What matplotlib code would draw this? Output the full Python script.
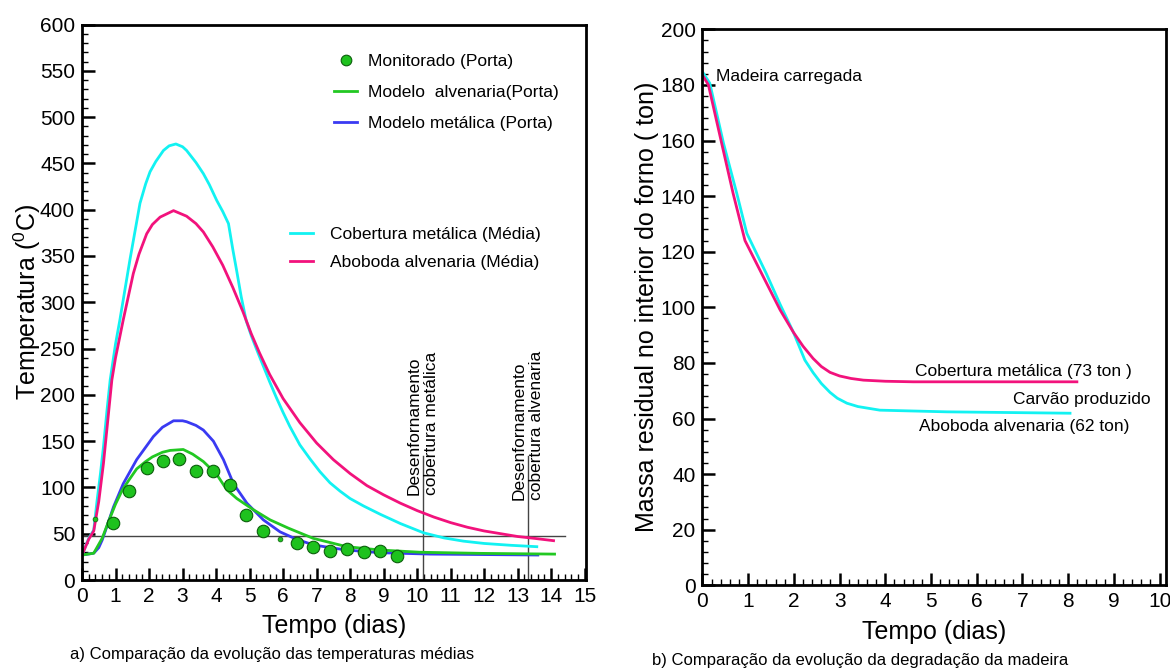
import matplotlib
matplotlib.use("Agg")
import matplotlib.pyplot as plt
from matplotlib.ticker import MultipleLocator

plt.rcParams["font.family"] = ["Liberation Sans", "DejaVu Sans"]
plt.rcParams["mathtext.fontset"] = "custom"
plt.rcParams["mathtext.rm"] = "Liberation Sans"

# --- a) temperaturas (dias, graus C) ---
cob_met_t = [0, 0.2, 0.35, 0.45, 0.55, 0.64, 0.75, 0.84, 1.0, 1.13, 1.43, 1.73,
             1.9, 2.03, 2.2, 2.43, 2.6, 2.8, 3.0, 3.12, 3.4, 3.62, 3.8, 4.02,
             4.2, 4.37, 4.5, 4.62, 4.75, 4.9, 5.05, 5.2, 5.4, 5.6, 5.8, 6.0,
             6.2, 6.5, 6.8, 7.1, 7.4, 7.7, 8.0, 8.4, 8.9, 9.5, 10.19, 10.8,
             11.38, 12.0, 12.8, 13.57]
cob_met_T = [27, 45, 54, 86, 115, 144, 185, 216, 255, 281, 346, 407,
             428, 441, 452, 464, 469, 471, 468, 464, 451, 439, 427, 410,
             398, 385, 357, 333, 306, 280, 264, 250, 232, 214, 197, 181,
             166, 146, 131, 117, 105, 96, 88, 80, 71, 61, 51, 45.5,
             42, 39.5, 37.5, 36]

abob_alv_t = [0, 0.2, 0.35, 0.5, 0.64, 0.89, 1.0, 1.23, 1.53, 1.7, 1.93, 2.1,
              2.33, 2.73, 3.12, 3.4, 3.62, 3.9, 4.2, 4.5, 4.8, 5.05, 5.3, 5.6,
              6.0, 6.5, 7.0, 7.5, 8.0, 8.5, 9.0, 9.5, 10.0, 10.5, 11.0, 11.5,
              12.0, 12.5, 13.0, 13.5, 14.07]
abob_alv_T = [27, 44, 53, 85, 126, 216, 240, 281, 331, 352, 374, 384,
              392, 399, 393, 385, 376, 360, 340, 316, 290, 266, 245, 222,
              196, 170, 148, 130, 115, 102, 92, 83, 75, 68, 62, 57,
              53, 50, 47, 45, 42.5]

mod_met_t = [0, 0.35, 0.5, 0.6, 0.74, 0.94, 1.23, 1.63, 2.13, 2.4, 2.73, 3.0,
             3.12, 3.4, 3.62, 3.92, 4.22, 4.52, 4.92, 5.41, 5.91, 6.4, 6.9,
             7.4, 7.9, 8.9, 10.39, 12.0, 13.6]
mod_met_T = [27, 29, 35, 43, 57.6, 79, 104, 130, 155, 165, 172, 172,
             171, 167, 162, 150, 130, 104, 83, 65, 52, 44, 38,
             35, 32.4, 29.5, 28, 27.5, 27]

mod_alv_t = [0, 0.35, 0.6, 0.8, 1.0, 1.2, 1.4, 1.63, 1.9, 2.1, 2.4, 2.63,
             3.02, 3.3, 3.62, 4.02, 4.32, 4.62, 5.11, 5.61, 6.16, 6.9, 7.9,
             8.9, 10.09, 11.88, 14.1]
mod_alv_T = [27, 29, 45, 64, 82, 97, 108, 120, 128, 133, 138, 140,
             141, 136, 128, 114, 97.5, 88, 76, 65, 56, 45, 36,
             32.4, 30, 28.8, 28]

monit_t = [0.92, 1.41, 1.93, 2.43, 2.9, 3.4, 3.9, 4.42, 4.9, 5.39,
           6.41, 6.9, 7.4, 7.9, 8.4, 8.9, 9.39]
monit_T = [62, 96, 121, 129, 131, 118, 118, 103, 70.5, 53,
           39.6, 36, 31.7, 33, 30, 31.7, 26]
monit_extra_t = [0.4, 5.91]
monit_extra_T = [66, 44]

ref_T = 48
desenf_t = [10.17, 13.3]
desenf_txt = ["Desenfornamento\ncobertura metálica",
              "Desenfornamento\ncobertura alvenaria"]

# --- b) massa residual (dias, ton) ---
massa_met_t = [0, 0.13, 0.42, 0.67, 0.93, 1.33, 1.7, 1.99, 2.2, 2.42, 2.6,
               2.79, 3.0, 3.25, 3.52, 4.0, 4.61, 6.0, 8.19]
massa_met = [183.5, 180, 159, 141, 124, 111, 99, 91, 86, 81.6, 78.7,
             76.6, 75.3, 74.4, 73.8, 73.4, 73.2, 73.2, 73.2]
massa_alv_t = [0, 0.16, 0.46, 0.75, 0.97, 1.4, 1.7, 1.99, 2.24, 2.42, 2.6,
               2.79, 2.95, 3.16, 3.4, 3.88, 5.34, 8.04]
massa_alv = [184.7, 180.6, 159, 141, 126.6, 112, 101, 91, 81, 76.5, 72.6,
             69.4, 67.3, 65.5, 64.3, 63, 62.4, 61.9]

CYAN = "#12f2f2"
PINK = "#f2127c"
BLUE = "#3a3af2"
GREEN = "#22c822"
FS_TXT = 12.5
LW = 2.0


def style_axes(ax, xmax, ymax, xmaj, ymaj, ymin_step):
    ax.set_xlim(0, xmax)
    ax.set_ylim(0, ymax)
    ax.xaxis.set_major_locator(MultipleLocator(xmaj))
    ax.xaxis.set_minor_locator(MultipleLocator(0.2))
    ax.yaxis.set_major_locator(MultipleLocator(ymaj))
    ax.yaxis.set_minor_locator(MultipleLocator(ymin_step))
    ax.tick_params(which="both", direction="in", top=False, right=False,
                   labelsize=15)
    ax.tick_params(which="major", length=9, width=1.8, pad=5)
    ax.tick_params(which="minor", length=4, width=1.0)
    for sp in ax.spines.values():
        sp.set_linewidth(2.0)


fig = plt.figure(figsize=(11.7, 6.69), dpi=100)

# a) temperaturas
ax1 = fig.add_axes([0.0701, 0.1330, 0.4308, 0.8303])
style_axes(ax1, 15.04, 600, 1, 50, 10)

ax1.axhline(ref_T, xmin=0, xmax=14.4 / 15.04, color="#444444", lw=1.0)
for t in desenf_t:
    ax1.plot([t, t], [0, 134], color="#444444", lw=1.0)
ax1.text(desenf_t[0], 92, desenf_txt[0], rotation=90, ha="center", va="bottom",
         multialignment="left", fontsize=FS_TXT)
ax1.text(desenf_t[1], 86, desenf_txt[1], rotation=90, ha="center", va="bottom",
         multialignment="left", fontsize=FS_TXT)

l_cob, = ax1.plot(cob_met_t, cob_met_T, color=CYAN, lw=LW,
                  label="Cobertura metálica (Média)")
l_abo, = ax1.plot(abob_alv_t, abob_alv_T, color=PINK, lw=LW,
                  label="Aboboda alvenaria (Média)")
l_met, = ax1.plot(mod_met_t, mod_met_T, color=BLUE, lw=LW,
                  label="Modelo metálica (Porta)")
l_alv, = ax1.plot(mod_alv_t, mod_alv_T, color=GREEN, lw=LW,
                  label="Modelo  alvenaria(Porta)")
l_mon, = ax1.plot(monit_t, monit_T, "o", ms=9, mfc="#1ec21e", mec="#0b5e0b",
                  mew=0.8, label="Monitorado (Porta)")
ax1.plot(monit_extra_t, monit_extra_T, "o", ms=3.5, mfc="#1ec21e",
         mec="#0b5e0b", mew=0.5)

leg1 = ax1.legend(handles=[l_mon, l_alv, l_met], loc="upper left",
                  bbox_to_anchor=(0.5, 0.947), frameon=False, fontsize=FS_TXT,
                  handlelength=1.35, handletextpad=0.6, labelspacing=0.9,
                  borderpad=0, borderaxespad=0, numpoints=1, markerscale=0.85)
ax1.add_artist(leg1)
ax1.legend(handles=[l_cob, l_abo], loc="upper left",
           bbox_to_anchor=(0.413, 0.636), frameon=False, fontsize=FS_TXT,
           handlelength=1.3, handletextpad=1.0, labelspacing=0.74,
           borderpad=0, borderaxespad=0)

ax1.set_xlabel("Tempo (dias)", fontsize=18, labelpad=6)
ax1.set_ylabel(r"Temperatura ($\mathregular{^{0}}$C)", fontsize=18)
ax1.yaxis.set_label_coords(-0.078, 0.5)

# b) massa residual
ax2 = fig.add_axes([0.6004, 0.1251, 0.3962, 0.8311])
style_axes(ax2, 10.14, 200, 1, 20, 4)

ax2.plot(massa_alv_t, massa_alv, color=CYAN, lw=LW)
ax2.plot(massa_met_t, massa_met, color=PINK, lw=LW)

ax2.text(0.3, 183, "Madeira carregada", fontsize=FS_TXT, ha="left", va="center")
ax2.text(4.65, 77, "Cobertura metálica (73 ton )", fontsize=FS_TXT,
         ha="left", va="center")
ax2.text(6.8, 67, "Carvão produzido", fontsize=FS_TXT, ha="left", va="center")
ax2.text(4.74, 57, "Aboboda alvenaria (62 ton)", fontsize=FS_TXT,
         ha="left", va="center")

ax2.set_xlabel("Tempo (dias)", fontsize=18, labelpad=6)
ax2.set_ylabel("Massa residual no interior do forno ( ton)", fontsize=18)
ax2.yaxis.set_label_coords(-0.094, 0.5)

fig.text(0.06, 0.021, "a) Comparação da evolução das temperaturas médias",
         fontsize=12, ha="left", va="center")
fig.text(0.557, 0.013, "b) Comparação da evolução da degradação da madeira",
         fontsize=12, ha="left", va="center")

fig.savefig("out.png", dpi=100)
